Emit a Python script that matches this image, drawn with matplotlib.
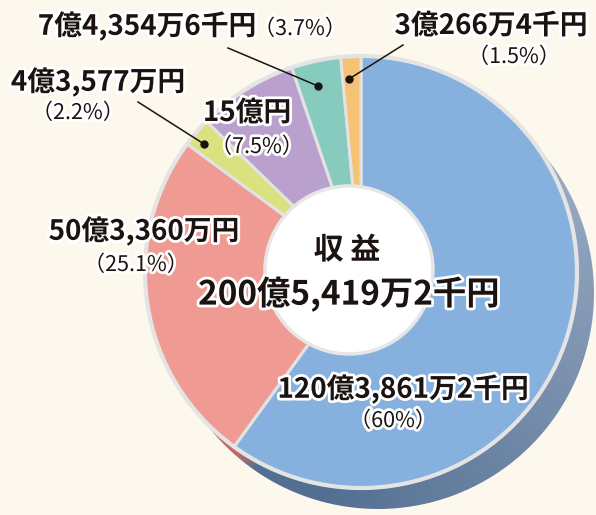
import numpy as np
import matplotlib
matplotlib.use("Agg")
import matplotlib.pyplot as plt
import matplotlib.patheffects as pe
from matplotlib.path import Path
from matplotlib.patches import PathPatch, Circle

plt.rcParams['font.family'] = ['Noto Sans CJK JP', 'DejaVu Sans']

# ---- data ----
categories = ["A", "B", "C", "D", "E", "F"]
shares = [60.0, 25.1, 2.2, 7.5, 3.7, 1.5]
amount_labels = ["120億3,861万2千円", "50億3,360万円", "4億3,577万円",
                 "15億円", "7億4,354万6千円", "3億266万4千円"]
pct_labels = ["（60%）", "（25.1%）", "（2.2%）", "（7.5%）", "（3.7%）", "（1.5%）"]
center_title = "収 益"
center_total = "200億5,419万2千円"
colors = ["#86b1de", "#ef9b94", "#d9e27f", "#b9a0cd", "#87cbbf", "#f6c273"]

W, H = 596, 515
BG = "#fdf8ee"
fig = plt.figure(figsize=(W / 100, H / 100), dpi=100, facecolor=BG)
ax = fig.add_axes([0, 0, 1, 1])

def Y(py):
    return H - py

cx, cy, R = 361, Y(272), 216
dx, dy = 17, -21

# ---- extrusion shadow (hull of circle and its offset) ----
th = np.linspace(0, 2 * np.pi, 721)
u = np.stack([np.cos(th), np.sin(th)], axis=1)
pts = np.array([cx, cy]) + R * u
mask = (u @ np.array([dx, dy])) > 0
pts[mask] += np.array([dx, dy])
hull = PathPatch(Path(np.vstack([pts, pts[:1]])), facecolor='none', edgecolor='none')
ax.add_patch(hull)
xs = np.linspace(0, W, 300)
ys = np.linspace(0, H, 260)
XX, YY = np.meshgrid(xs, ys)
ang = np.degrees(np.arctan2(YY - cy, XX - cx))
t = np.clip((50 - ang) / 150.0, 0, 1)
c1 = np.array([0xa6, 0xb5, 0xcd]) / 255
c2 = np.array([0x52, 0x6f, 0x91]) / 255
img = c1[None, None, :] * (1 - t[..., None]) + c2[None, None, :] * t[..., None]
pink = np.array([0xc2, 0x6a, 0x6a]) / 255
tp = np.clip((ang - (-118)) / -6.0, 0, 1) * (ang < -100)
img = img * (1 - tp[..., None]) + pink[None, None, :] * tp[..., None]
im = ax.imshow(img, extent=(0, W, 0, H), origin='lower', zorder=1, interpolation='bilinear')
im.set_clip_path(hull)

# ---- pie ----
wedges, _ = ax.pie(shares, colors=colors, startangle=90, counterclock=False,
                   center=(cx, cy), radius=R, frame=True,
                   wedgeprops=dict(edgecolor='#e2e2e2', linewidth=2.2))
for w in wedges:
    w.set_zorder(2)
ax.add_patch(Circle((cx, cy), R, facecolor='none', edgecolor='#e4e4e4', linewidth=3, zorder=3))
ax.set_xlim(0, W)
ax.set_ylim(0, H)
ax.set_aspect('equal')
ax.axis('off')

# center hole
ax.add_patch(Circle((349, Y(270)), 84, facecolor='white', edgecolor='#e6e6e6', linewidth=2.5, zorder=4))

stroke = [pe.withStroke(linewidth=4, foreground='white')]
TXT = "#1a1311"

def label(x, y, s, size, weight='bold', ha='center', outline=True):
    ax.text(x, Y(y), s, fontsize=size, fontweight=weight, ha=ha, va='center',
            color=TXT, zorder=6, path_effects=stroke if outline else None)

AS, PS = 20, 15.5

# center
label(347, 250, center_title, 21.5)
label(349, 294, center_total, 24)

# blue
label(403, 389, amount_labels[0], AS)
label(393, 421, pct_labels[0], PS, weight='normal')
# pink
label(144, 231, amount_labels[1], AS)
label(136, 265, pct_labels[1], PS, weight='normal')
# yellow-green
label(98, 82, amount_labels[2], AS)
label(78, 113, pct_labels[2], PS, weight='normal')
# purple
label(247, 113, amount_labels[3], AS)
label(257, 147, pct_labels[3], PS, weight='normal')
# teal
label(147, 26, amount_labels[4], AS)
label(300, 29, pct_labels[4], PS, weight='normal')
# orange
label(491, 26, amount_labels[5], AS)
label(514, 57, pct_labels[5], PS, weight='normal')

# leader lines with dots
leaders = [((228, 48), (318, 86)), ((403, 45), (349, 79)), ((138, 102), (204, 144))]
for (x0, y0), (x1, y1) in leaders:
    ax.plot([x0, x1], [Y(y0), Y(y1)], color=TXT, linewidth=1.1, zorder=5)
    ax.plot([x1], [Y(y1)], 'o', color=TXT, markersize=5, zorder=5)

fig.savefig("out.png", dpi=100, facecolor=BG)
